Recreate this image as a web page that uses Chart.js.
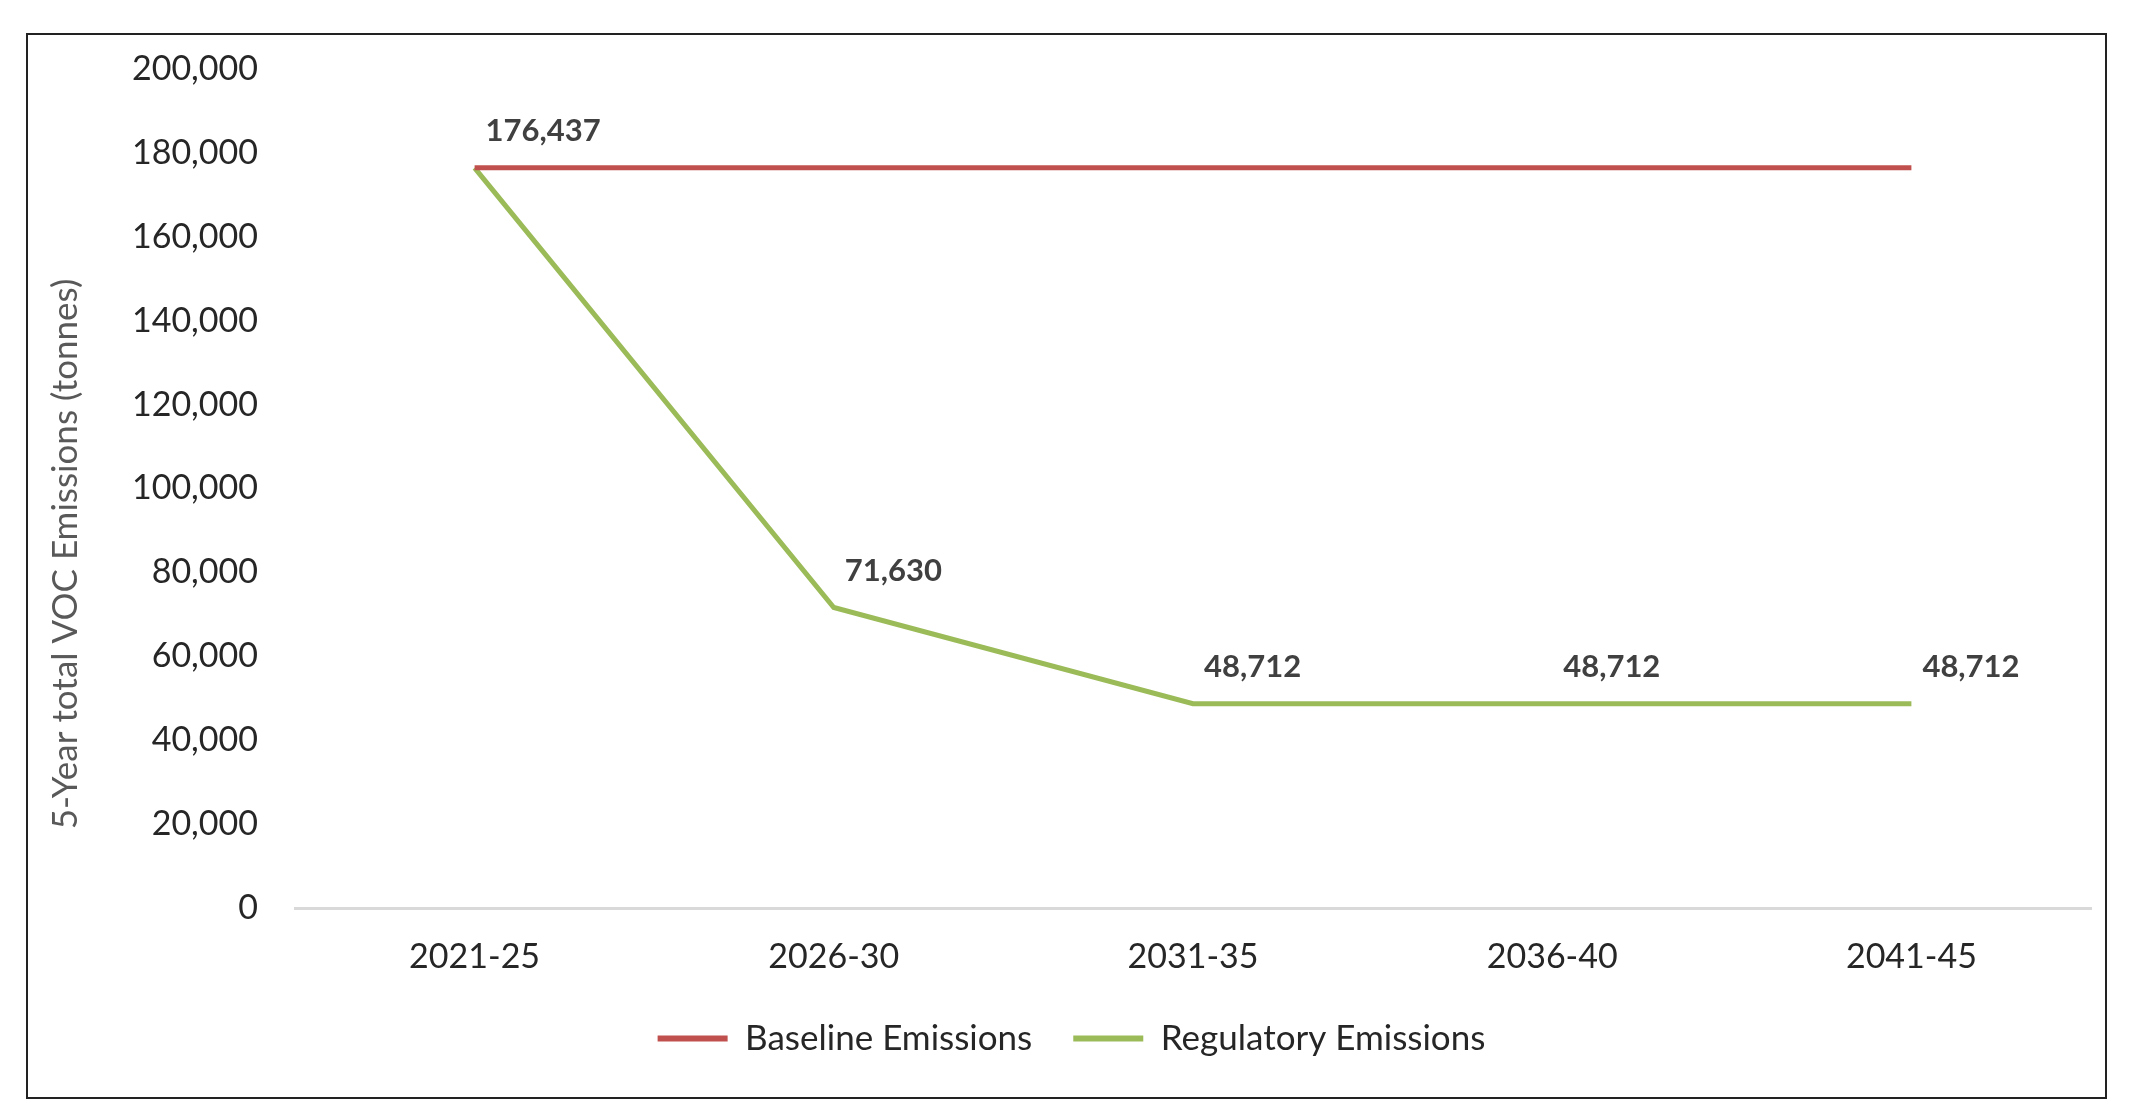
<!DOCTYPE html>
<html>
<head>
<meta charset="utf-8">
<title>5-Year total VOC Emissions</title>
<script src="https://cdn.jsdelivr.net/npm/chart.js@4/dist/chart.umd.min.js"></script>
<style>
    html, body { margin: 0; padding: 0; background: #fff; }
    #frame {
        position: absolute;
        left: 26px;
        top: 33px;
        width: 2077px;
        height: 1062px;
        border: 2px solid #222;
        pointer-events: none;
    }
    #emissionsChart { position: absolute; left: 0; top: 0; }
</style>
</head>
<body>
<canvas id="emissionsChart" width="2150" height="1119"></canvas>
<div id="frame"></div>
<script>
(function () {
    'use strict';

    // data
    var periods = ['2021-25', '2026-30', '2031-35', '2036-40', '2041-45'];
    var baseline = [176437, 176437, 176437, 176437, 176437];
    var regulatory = [176437, 71630, 48712, 48712, 48712];
    var yTicks = [0, 20000, 40000, 60000, 80000, 100000, 120000, 140000, 160000, 180000, 200000];

    var RED = '#C0504D';
    var GREEN = '#9BBB59';

    Chart.defaults.font.family = 'Lato';

    function fmt(v) {
        return Number(v).toLocaleString('en-US');
    }

    // value labels sit up and to the right of each regulatory point
    var valueLabels = {
        id: 'valueLabels',
        afterDatasetsDraw: function (chart) {
            var ctx = chart.ctx;
            var meta = chart.getDatasetMeta(1);
            ctx.save();
            ctx.font = 'bold 31px Lato';
            ctx.fillStyle = '#404040';
            ctx.textAlign = 'left';
            ctx.textBaseline = 'middle';
            meta.data.forEach(function (point, i) {
                ctx.fillText(fmt(regulatory[i]), point.x + 11, point.y - 37);
            });
            ctx.restore();
        }
    };

    // axis title drawn by hand so it can sit a little below the plot centre
    var yTitle = {
        id: 'yTitle',
        afterDraw: function (chart) {
            var ctx = chart.ctx;
            ctx.save();
            ctx.translate(66, 554);
            ctx.rotate(-Math.PI / 2);
            ctx.font = '35px Lato';
            ctx.fillStyle = '#595959';
            ctx.textAlign = 'center';
            ctx.textBaseline = 'middle';
            ctx.fillText('5-Year total VOC Emissions (tonnes)', 0, 0);
            ctx.restore();
        }
    };

    new Chart(document.getElementById('emissionsChart'), {
        type: 'line',
        data: {
            labels: periods,
            datasets: [{
                label: 'Baseline Emissions',
                data: baseline,
                borderColor: RED,
                backgroundColor: RED,
                borderWidth: 5,
                pointRadius: 0,
                tension: 0
            }, {
                label: 'Regulatory Emissions',
                data: regulatory,
                borderColor: GREEN,
                backgroundColor: GREEN,
                borderWidth: 5,
                pointRadius: 0,
                tension: 0
            }]
        },
        options: {
            responsive: false,
            animation: false,
            devicePixelRatio: 1,
            layout: {
                padding: { top: 69, right: 59, bottom: 53, left: 52 }
            },
            scales: {
                x: {
                    offset: true,
                    afterFit: function (scale) {
                        // just tall enough for the labels, so the legend sits close under them
                        scale.height = 72;
                    },
                    grid: { display: false, drawTicks: false },
                    border: { display: true, color: '#D9D9D9', width: 3 },
                    ticks: {
                        padding: 29,
                        color: '#262626',
                        font: { size: 34 }
                    }
                },
                y: {
                    min: 0,
                    max: 200000,
                    afterFit: function (scale) {
                        scale.width = 243;
                    },
                    afterBuildTicks: function (scale) {
                        scale.ticks = yTicks.map(function (v) { return { value: v }; });
                    },
                    grid: { display: false, drawTicks: false },
                    border: { display: false },
                    ticks: {
                        padding: 37,
                        color: '#262626',
                        font: { size: 34 },
                        callback: function (v) { return fmt(v); }
                    }
                }
            },
            plugins: {
                tooltip: { enabled: false },
                legend: {
                    position: 'bottom',
                    labels: {
                        boxWidth: 70,
                        boxHeight: 6,
                        padding: 41,
                        color: '#262626',
                        font: { size: 35 },
                        generateLabels: function (chart) {
                            var items = Chart.defaults.plugins.legend.labels.generateLabels(chart);
                            items.forEach(function (item) {
                                item.lineWidth = 0;
                            });
                            return items;
                        }
                    }
                }
            }
        },
        plugins: [valueLabels, yTitle]
    });
})();
</script>
</body>
</html>
